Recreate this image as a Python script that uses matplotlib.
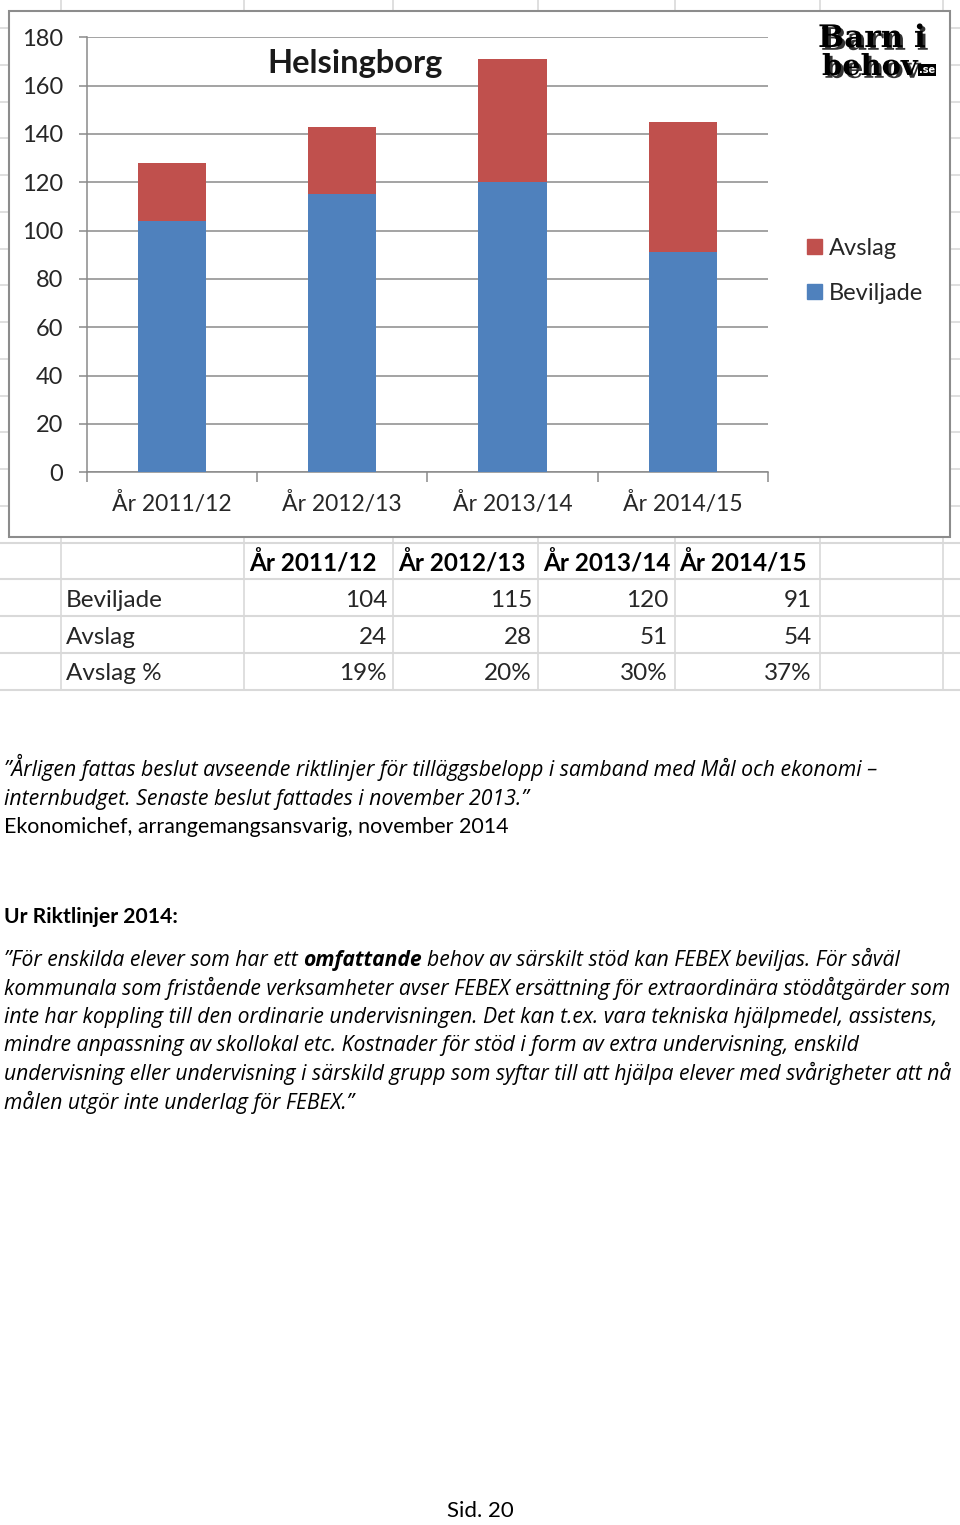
import matplotlib
matplotlib.use("Agg")
import matplotlib.pyplot as plt
import matplotlib.patheffects as pe
from matplotlib.patches import Rectangle, Patch
import numpy as np

# ---------------- data ----------------
categories = ["År 2011/12", "År 2012/13", "År 2013/14", "År 2014/15"]
beviljade = [104, 115, 120, 91]
avslag = [24, 28, 51, 54]
avslag_pct = ["19%", "20%", "30%", "37%"]
row_labels = ["Beviljade", "Avslag", "Avslag %"]
yticks = [0, 20, 40, 60, 80, 100, 120, 140, 160, 180]
title = "Helsingborg"
series_names = ["Avslag", "Beviljade"]

quote_lines = [
    "\u201dÅrligen fattas beslut avseende riktlinjer för tilläggsbelopp i samband med Mål och ekonomi \u2013",
    "internbudget. Senaste beslut fattades i november 2013.\u201d",
]
source_line = "Ekonomichef, arrangemangsansvarig, november 2014"
heading = "Ur Riktlinjer 2014:"
body_first = ["\u201dFör enskilda elever som har ett", "omfattande",
              "behov av särskilt stöd kan FEBEX beviljas. För såväl"]
body_lines = [
    "kommunala som fristående verksamheter avser FEBEX ersättning för extraordinära stödåtgärder som",
    "inte har koppling till den ordinarie undervisningen. Det kan t.ex. vara tekniska hjälpmedel, assistens,",
    "mindre anpassning av skollokal etc. Kostnader för stöd i form av extra undervisning, enskild",
    "undervisning eller undervisning i särskild grupp som syftar till att hjälpa elever med svårigheter att nå",
    "målen utgör inte underlag för FEBEX.\u201d",
]
page_label = "Sid. 20"

# ---------------- style ----------------
W, H, DPI = 960, 1525, 100
BLUE = "#4F81BD"
RED = "#C0504D"
GRID = "#8a8a8a"
SHEET = "#d9d9d9"
CHART_FONT = "Lato"
ITALIC_FONT = "Open Sans"

fig = plt.figure(figsize=(W / DPI, H / DPI), dpi=DPI)
fig.patch.set_facecolor("white")
renderer = fig.canvas.get_renderer()

bg = fig.add_axes([0, 0, 1, 1], zorder=0)
bg.set_xlim(0, W)
bg.set_ylim(H, 0)
bg.axis("off")


def text_width(s, size, **kw):
    t = bg.text(0, 0, s, fontsize=size, **kw)
    w = t.get_window_extent(renderer).width
    t.remove()
    return w


def fit(s, target, **kw):
    return 10.0 * target / text_width(s, 10.0, **kw)


# spreadsheet gridlines behind the chart
col_x = [61, 244, 393, 538, 675, 820, 943]
row_y = [689.5 - 36.75 * k for k in range(19)]
for cx in col_x:
    bg.plot([cx, cx], [0, 10], color=SHEET, lw=1.2)
    bg.plot([cx, cx], [537, 690], color=SHEET, lw=1.2)
for ry in row_y:
    if ry > 537:
        bg.plot([0, W], [ry, ry], color=SHEET, lw=1.5)
    elif ry > 10:
        bg.plot([0, 8], [ry, ry], color=SHEET, lw=1.2)
        bg.plot([950, W], [ry, ry], color=SHEET, lw=1.2)

# chart frame
bg.add_patch(Rectangle((8.5, 10.5), 941, 526, facecolor="white",
                       edgecolor="#8c8c8c", lw=1.5, zorder=2))

# ---------------- chart ----------------
ax = fig.add_axes([86.7 / W, 1 - 472.3 / H, (768 - 86.7) / W, (472.3 - 37.3) / H], zorder=3)
ax.set_facecolor("none")
x = np.arange(len(categories))
ax.bar(x, beviljade, width=0.40, color=BLUE, zorder=3)
ax.bar(x, avslag, bottom=beviljade, width=0.40, color=RED, zorder=3)
ax.set_xlim(-0.5, len(categories) - 0.5)
ax.set_ylim(0, 180)
ax.set_yticks(yticks)
ax.yaxis.grid(True, color=GRID, lw=1.1)
ax.set_axisbelow(True)
for s in ["top", "right"]:
    ax.spines[s].set_visible(False)
for s in ["left", "bottom"]:
    ax.spines[s].set_color(GRID)
    ax.spines[s].set_linewidth(1.1)
ax.set_xticks(x)
ax.set_xticklabels(categories, fontfamily=CHART_FONT, color="#262626")
ax.set_xticks(np.arange(-0.5, len(categories), 1.0), minor=True)
ax.tick_params(axis="x", which="major", length=0, pad=14.5, labelsize=16.5)
ax.tick_params(axis="x", which="minor", length=7, width=1.1, color=GRID)
ax.tick_params(axis="y", length=5.8, width=1.1, color=GRID, pad=11, labelsize=17,
               labelcolor="#262626")
for lab in ax.get_yticklabels():
    lab.set_fontfamily(CHART_FONT)

bg.text(355.5, 64, title, fontsize=23.5, fontweight="bold", fontfamily=CHART_FONT,
        ha="center", va="center", color="#1a1a1a", zorder=4)

leg = ax.legend([Patch(color=RED), Patch(color=BLUE)], series_names,
                loc="upper left", bbox_to_anchor=(807 / W, 1 - 238 / H),
                bbox_transform=fig.transFigure, frameon=False,
                prop={"family": CHART_FONT, "size": 17},
                handlelength=0.62, handleheight=0.62, handletextpad=0.3,
                labelspacing=1.0, borderpad=0, borderaxespad=0)
for t in leg.get_texts():
    t.set_color("#262626")

# logo
for s, xx, yy, tw in [("Barn i", 818, 47, 108), ("behov", 822, 75, 96)]:
    fs = fit(s, tw, fontfamily="DejaVu Serif", fontweight="bold")
    bg.text(xx, yy, s, fontsize=fs, fontfamily="DejaVu Serif", fontweight="bold",
            color="black", ha="left", va="baseline", zorder=4,
            path_effects=[pe.SimplePatchShadow(offset=(2, -2), shadow_rgbFace="black", alpha=0.8),
                          pe.Normal()])
bg.text(927, 73, ".se", fontsize=7, fontfamily="DejaVu Sans", fontweight="bold",
        color="white", ha="center", va="baseline", zorder=4,
        bbox=dict(boxstyle="square,pad=0.1", fc="black", ec="none"))

# ---------------- table ----------------
TFS = 17.5
header_x = [249, 398, 543, 679]
value_x = [387, 532, 668, 812]
row_centers = [599, 636, 672]
for cat, hx in zip(categories, header_x):
    bg.text(hx, 571, cat, fontsize=TFS, fontweight="bold", fontfamily=CHART_FONT,
            ha="left", va="baseline", color="black")
table_rows = [[str(v) for v in beviljade], [str(v) for v in avslag], avslag_pct]
for lab, vals, yc in zip(row_labels, table_rows, row_centers):
    bg.text(66, yc + 8, lab, fontsize=TFS, fontfamily=CHART_FONT, ha="left",
            va="baseline", color="#262626")
    for v, vx in zip(vals, value_x):
        bg.text(vx, yc + 8, v, fontsize=TFS, fontfamily=CHART_FONT, ha="right",
                va="baseline", color="#262626")

# ---------------- text block ----------------
ital = dict(fontfamily=ITALIC_FONT, fontstyle="italic")
qfs = fit(quote_lines[0], 876, **ital)
for i, s in enumerate(quote_lines):
    bg.text(4, 776 + 28.5 * i, s, fontsize=qfs, ha="left", va="baseline", color="black", **ital)
sfs = fit(source_line, 504, fontfamily=CHART_FONT)
bg.text(4, 833, source_line, fontsize=sfs, fontfamily=CHART_FONT, ha="left",
        va="baseline", color="black")
hfs = fit(heading, 174, fontfamily=CHART_FONT, fontweight="bold")
bg.text(4, 923, heading, fontsize=hfs, fontfamily=CHART_FONT, fontweight="bold",
        ha="left", va="baseline", color="black")

bfs = fit(body_lines[0], 946, **ital)
space = text_width("x x", bfs, **ital) - text_width("xx", bfs, **ital)
xcur = 4
y0 = 966
for j, piece in enumerate(body_first):
    kw = dict(ital)
    if j == 1:
        kw["fontweight"] = "bold"
    bg.text(xcur, y0, piece, fontsize=bfs, ha="left", va="baseline", color="black", **kw)
    xcur += text_width(piece, bfs, **kw) + space
for i, s in enumerate(body_lines):
    bg.text(4, y0 + 28.5 * (i + 1), s, fontsize=bfs, ha="left", va="baseline",
            color="black", **ital)

bg.text(480, 1521, page_label, fontsize=16, fontfamily=CHART_FONT, ha="center",
        va="bottom", color="black")

fig.savefig("out.png", dpi=DPI, facecolor="white")
